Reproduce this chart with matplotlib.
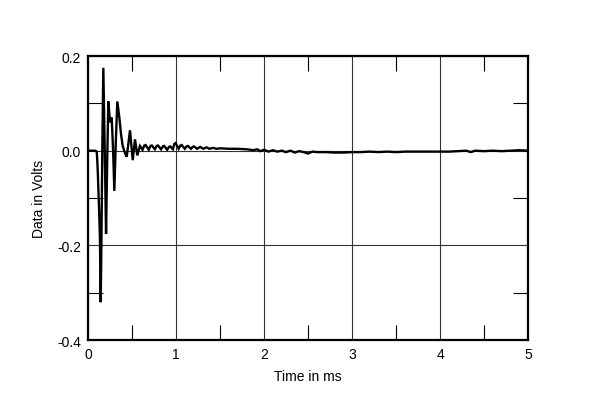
import numpy as np
import matplotlib
matplotlib.use('Agg')
from matplotlib import pyplot as plt
from matplotlib.ticker import MultipleLocator

plt.rcParams['font.family'] = ['Liberation Sans', 'DejaVu Sans']

# impulse response
time_ms = [0.0, 0.08, 0.099, 0.105, 0.112, 0.125, 0.135, 0.144, 0.152, 0.162,
           0.174, 0.19, 0.205, 0.218, 0.231, 0.25, 0.269, 0.285, 0.299,
           0.316, 0.333, 0.356, 0.375, 0.394, 0.42, 0.44, 0.477, 0.508,
           0.534, 0.56, 0.59, 0.62, 0.64, 0.655, 0.69, 0.71, 0.725, 0.76,
           0.78, 0.795, 0.83, 0.85, 0.865, 0.9, 0.92, 0.935, 0.965, 0.98,
           0.995, 1.03, 1.05, 1.065, 1.1, 1.12, 1.135, 1.17, 1.19, 1.205,
           1.24, 1.275, 1.31, 1.345, 1.38, 1.42, 1.46, 1.5, 1.6, 1.7,
           1.8, 1.88, 1.92, 1.96, 2.0, 2.05, 2.1, 2.15, 2.2, 2.25, 2.3, 2.35,
           2.4, 2.45, 2.5, 2.55, 2.6, 2.7, 2.8, 2.9, 3.0, 3.1, 3.2, 3.3, 3.4,
           3.5, 3.6, 3.7, 3.8, 3.9, 4.0, 4.1, 4.2, 4.3, 4.35, 4.4, 4.5, 4.6,
           4.7, 4.8, 4.9, 5.0]
volts = [0.0, 0.0, -0.002, -0.02, -0.05, -0.12, -0.18, -0.32, -0.2, 0.0,
         0.175, 0.0, -0.176, -0.02, 0.104, 0.06, 0.07, 0.0, -0.085,
         0.02, 0.104, 0.07, 0.035, 0.01, -0.005, -0.013, 0.043, -0.02,
         0.024, -0.01, 0.01, 0.002, 0.011, 0.012, 0.002, 0.01, 0.011, 0.003,
         0.01, 0.011, 0.003, 0.009, 0.01, 0.002, 0.008, 0.009, 0.003, 0.014,
         0.016, 0.004, 0.011, 0.012, 0.004, 0.009, 0.01, 0.004, 0.008, 0.009,
         0.004, 0.008, 0.004, 0.007, 0.004, 0.006, 0.004, 0.005, 0.004,
         0.004, 0.003, 0.001, 0.003, -0.001, 0.002, -0.002, 0.001, -0.002,
         0.0, -0.003, 0.0, -0.004, -0.001, -0.003, -0.006, -0.002, -0.003,
         -0.003, -0.004, -0.004, -0.003, -0.003, -0.002, -0.003, -0.002,
         -0.003, -0.002, -0.002, -0.002, -0.002, -0.002, -0.002, -0.001, 0.0,
         -0.003, 0.0, -0.001, 0.0, -0.001, 0.0, 0.001, 0.0]

fig = plt.figure(figsize=(6.0, 4.06), dpi=100)
ax = fig.add_axes([0.1467, 0.160, 0.7333, 0.6996])

ax.plot(time_ms, volts, color='black', lw=1.7, solid_joinstyle='miter')

ax.set_xlim(0, 5)
ax.set_ylim(-0.4, 0.2)
ax.xaxis.set_major_locator(MultipleLocator(1))
ax.xaxis.set_minor_locator(MultipleLocator(0.5))
ax.yaxis.set_major_locator(MultipleLocator(0.2))
ax.yaxis.set_minor_locator(MultipleLocator(0.1))
ax.set_yticklabels([f'{v:.1f}' for v in ax.get_yticks()])
ax.set_xticklabels([f'{v:g}' for v in ax.get_xticks()])

ax.grid(True, which='major', color='#333333', lw=0.8)
ax.tick_params(which='major', direction='in', length=0, labelsize=10, pad=5)
ax.tick_params(which='minor', direction='in', length=11, width=0.8,
               top=True, right=True, bottom=True, left=True)
for s in ax.spines.values():
    s.set_linewidth(1.6)

ax.set_xlabel('Time in ms', fontsize=10, labelpad=6)
ax.set_ylabel('Data in Volts', fontsize=10, labelpad=8)

fig.savefig('out.png', dpi=100)
